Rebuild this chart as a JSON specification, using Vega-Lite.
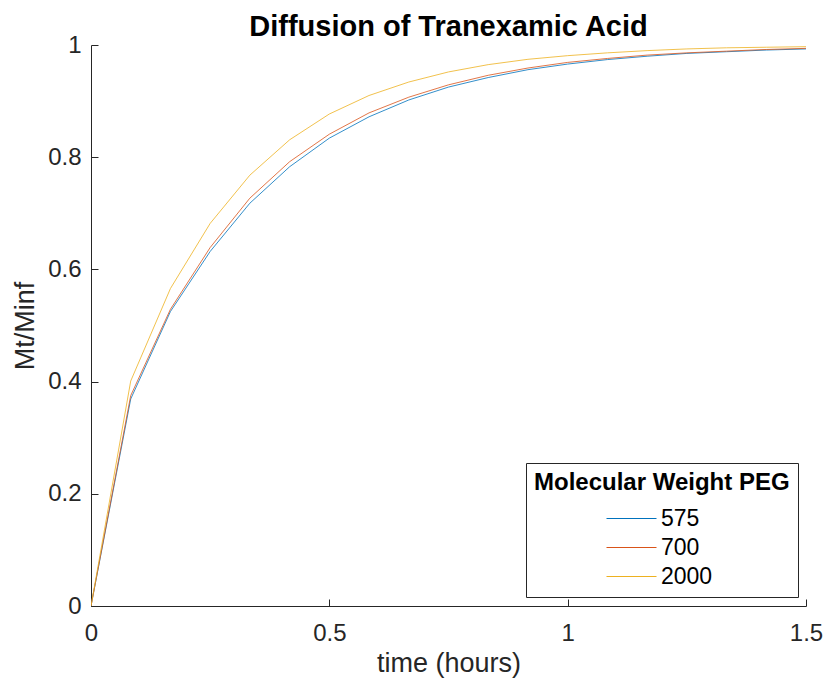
{
  "$schema": "https://vega.github.io/schema/vega-lite/v6.json",
  "width": 715,
  "height": 561,
  "autosize": {"type": "none"},
  "padding": {"left": 91, "top": 45, "right": 19, "bottom": 77},
  "background": "white",
  "config": {
    "view": {"stroke": null},
    "font": "Liberation Sans"
  },
  "title": {
    "text": "Diffusion of Tranexamic Acid",
    "font": "Liberation Sans",
    "fontSize": 29,
    "fontWeight": "bold",
    "color": "#000000",
    "anchor": "middle",
    "frame": "group",
    "limit": 600,
    "offset": -9
  },
  "data": {
    "values": [
      {"t": 0, "MW": "575", "y": 0},
      {"t": 0.0833, "MW": "575", "y": 0.369},
      {"t": 0.1667, "MW": "575", "y": 0.525},
      {"t": 0.25, "MW": "575", "y": 0.632},
      {"t": 0.3333, "MW": "575", "y": 0.718},
      {"t": 0.4167, "MW": "575", "y": 0.783},
      {"t": 0.5, "MW": "575", "y": 0.834},
      {"t": 0.5833, "MW": "575", "y": 0.872},
      {"t": 0.6667, "MW": "575", "y": 0.902},
      {"t": 0.75, "MW": "575", "y": 0.925},
      {"t": 0.8333, "MW": "575", "y": 0.942},
      {"t": 0.9167, "MW": "575", "y": 0.956},
      {"t": 1.0, "MW": "575", "y": 0.966},
      {"t": 1.0833, "MW": "575", "y": 0.974},
      {"t": 1.1667, "MW": "575", "y": 0.980},
      {"t": 1.25, "MW": "575", "y": 0.985},
      {"t": 1.3333, "MW": "575", "y": 0.988},
      {"t": 1.4167, "MW": "575", "y": 0.991},
      {"t": 1.5, "MW": "575", "y": 0.993},
      {"t": 0, "MW": "700", "y": 0},
      {"t": 0.0833, "MW": "700", "y": 0.375},
      {"t": 0.1667, "MW": "700", "y": 0.529},
      {"t": 0.25, "MW": "700", "y": 0.639},
      {"t": 0.3333, "MW": "700", "y": 0.727},
      {"t": 0.4167, "MW": "700", "y": 0.792},
      {"t": 0.5, "MW": "700", "y": 0.841},
      {"t": 0.5833, "MW": "700", "y": 0.879},
      {"t": 0.6667, "MW": "700", "y": 0.907},
      {"t": 0.75, "MW": "700", "y": 0.929},
      {"t": 0.8333, "MW": "700", "y": 0.946},
      {"t": 0.9167, "MW": "700", "y": 0.959},
      {"t": 1.0, "MW": "700", "y": 0.969},
      {"t": 1.0833, "MW": "700", "y": 0.976},
      {"t": 1.1667, "MW": "700", "y": 0.982},
      {"t": 1.25, "MW": "700", "y": 0.986},
      {"t": 1.3333, "MW": "700", "y": 0.989},
      {"t": 1.4167, "MW": "700", "y": 0.992},
      {"t": 1.5, "MW": "700", "y": 0.994},
      {"t": 0, "MW": "2000", "y": 0},
      {"t": 0.0833, "MW": "2000", "y": 0.401},
      {"t": 0.1667, "MW": "2000", "y": 0.566},
      {"t": 0.25, "MW": "2000", "y": 0.682},
      {"t": 0.3333, "MW": "2000", "y": 0.768},
      {"t": 0.4167, "MW": "2000", "y": 0.831},
      {"t": 0.5, "MW": "2000", "y": 0.877},
      {"t": 0.5833, "MW": "2000", "y": 0.910},
      {"t": 0.6667, "MW": "2000", "y": 0.934},
      {"t": 0.75, "MW": "2000", "y": 0.952},
      {"t": 0.8333, "MW": "2000", "y": 0.965},
      {"t": 0.9167, "MW": "2000", "y": 0.9745},
      {"t": 1.0, "MW": "2000", "y": 0.981},
      {"t": 1.0833, "MW": "2000", "y": 0.986},
      {"t": 1.1667, "MW": "2000", "y": 0.990},
      {"t": 1.25, "MW": "2000", "y": 0.993},
      {"t": 1.3333, "MW": "2000", "y": 0.995},
      {"t": 1.4167, "MW": "2000", "y": 0.996},
      {"t": 1.5, "MW": "2000", "y": 0.997}
    ]
  },
  "mark": {"type": "line", "strokeWidth": 0.8, "clip": true},
  "encoding": {
    "x": {
      "field": "t",
      "type": "quantitative",
      "scale": {"domain": [0, 1.5], "nice": false, "zero": false},
      "axis": {
        "title": "time (hours)",
        "values": [0, 0.5, 1, 1.5],
        "format": "~g",
        "grid": false,
        "domainColor": "#262626",
        "domainWidth": 1,
        "tickColor": "#262626",
        "tickSize": -7,
        "labelPadding": 22,
        "labelFontSize": 24,
        "labelColor": "#262626",
        "labelFont": "Liberation Sans",
        "titleFont": "Liberation Sans",
        "titleFontSize": 27,
        "titleFontWeight": "normal",
        "titleColor": "#262626",
        "titlePadding": 5,
        "labelFlush": false
      }
    },
    "y": {
      "field": "y",
      "type": "quantitative",
      "scale": {"domain": [0, 1], "nice": false},
      "axis": {
        "title": "Mt/Minf",
        "values": [0, 0.2, 0.4, 0.6, 0.8, 1],
        "format": "~g",
        "grid": false,
        "domainColor": "#262626",
        "domainWidth": 1,
        "tickColor": "#262626",
        "tickSize": -7,
        "labelPadding": 17,
        "labelFontSize": 24,
        "labelColor": "#262626",
        "labelFont": "Liberation Sans",
        "titleFont": "Liberation Sans",
        "titleFontSize": 27,
        "titleFontWeight": "normal",
        "titleColor": "#262626",
        "titlePadding": 8,
        "labelFlush": false
      }
    },
    "color": {
      "field": "MW",
      "type": "nominal",
      "sort": ["575", "700", "2000"],
      "scale": {"domain": ["575", "700", "2000"], "range": ["#0072BD", "#D95319", "#EDB120"]},
      "legend": {
        "title": "Molecular Weight PEG",
        "orient": "none",
        "legendX": 435,
        "legendY": 418,
        "strokeColor": "#262626",
        "fillColor": "white",
        "padding": 8,
        "titleFont": "Liberation Sans",
        "titleFontSize": 24,
        "titleFontWeight": "bold",
        "titleColor": "#000000",
        "titleLimit": 400,
        "titlePadding": 12,
        "labelFont": "Liberation Sans",
        "labelFontSize": 23,
        "labelColor": "#000000",
        "symbolType": "M-2.5,0H2.5",
        "symbolSize": 400,
        "symbolStrokeWidth": 1,
        "symbolOffset": 86,
        "rowPadding": 5,
        "labelOffset": 18
      }
    }
  }
}
